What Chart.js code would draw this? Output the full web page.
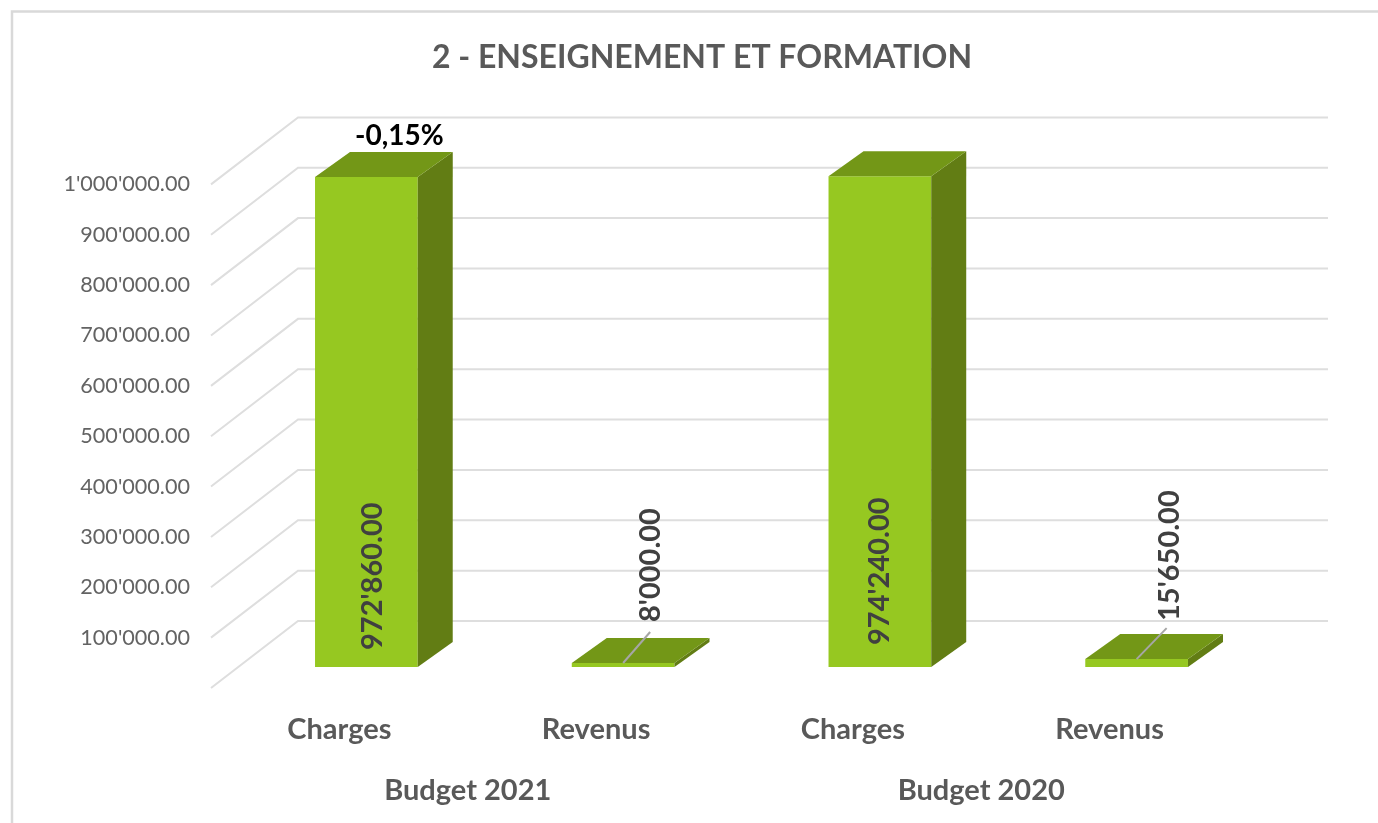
<!DOCTYPE html>
<html>
<head>
<meta charset="utf-8">
<style>html,body{margin:0;padding:0;background:#fff}canvas{display:block}</style>
<script src="https://cdn.jsdelivr.net/npm/chart.js@4"></script>
</head>
<body>
<canvas id="c" width="1378" height="823"></canvas>
<script>
const categories = ['Charges', 'Revenus', 'Charges', 'Revenus'];
const groups = ['Budget 2021', 'Budget 2020'];
const values = [972860, 8000, 974240, 15650];
const valueLabels = ["972'860.00", "8'000.00", "974'240.00", "15'650.00"];
const changeLabel = '-0,15%';
const titleText = '2 - ENSEIGNEMENT ET FORMATION';

const FONT = 'Lato, "Open Sans", sans-serif';
const FRONT = '#96C821', TOP = '#739717', SIDE = '#627D14', GRID = '#DEDEDE', TEXT = '#595959';
const BAR_DX = 27, BAR_DY = -21, DEPTH_X = 35, DEPTH_Y = 25, WALL_DX = 87, WALL_DY = -67;

function fmt(v) {
  const s = String(Math.round(v)).replace(/\B(?=(\d{3})+$)/g, "'");
  return s + '.00';
}

const threeD = {
  id: 'threeD',
  beforeDatasetsDraw(chart) {
    const { ctx, chartArea: a, scales: { y } } = chart;
    ctx.save();
    ctx.strokeStyle = GRID;
    ctx.lineWidth = 2;
    y.ticks.forEach(t => {
      const p = y.getPixelForValue(t.value);
      ctx.beginPath();
      ctx.moveTo(a.left, p);
      ctx.lineTo(a.left + WALL_DX, p + WALL_DY);
      ctx.lineTo(a.right + WALL_DX + 3, p + WALL_DY);
      ctx.stroke();
    });
    // chart frame
    ctx.strokeStyle = '#D9D9D9';
    ctx.lineWidth = 2.5;
    ctx.beginPath();
    ctx.moveTo(12, 823);
    ctx.lineTo(12, 11.5);
    ctx.lineTo(1378, 11.5);
    ctx.stroke();
    ctx.restore();
  },
  beforeDatasetDraw(chart) {
    chart.ctx.save();
    chart.ctx.translate(BAR_DX, BAR_DY);
  },
  afterDatasetDraw(chart, args) {
    const { ctx } = chart;
    ctx.restore();
    const els = chart.getDatasetMeta(args.index).data;
    els.forEach(el => {
      const l = el.x - el.width / 2 + BAR_DX, r = el.x + el.width / 2 + BAR_DX;
      const t = el.y + BAR_DY, b = el.base + BAR_DY;
      ctx.fillStyle = SIDE;
      ctx.beginPath();
      ctx.moveTo(r, t); ctx.lineTo(r + DEPTH_X, t - DEPTH_Y);
      ctx.lineTo(r + DEPTH_X, b - DEPTH_Y); ctx.lineTo(r, b);
      ctx.closePath(); ctx.fill();
      ctx.fillStyle = TOP;
      ctx.beginPath();
      ctx.moveTo(l, t); ctx.lineTo(l + DEPTH_X, t - DEPTH_Y);
      ctx.lineTo(r + DEPTH_X, t - DEPTH_Y); ctx.lineTo(r, t);
      ctx.closePath(); ctx.fill();
    });
  },
  afterDatasetsDraw(chart) {
    const { ctx } = chart;
    const els = chart.getDatasetMeta(0).data;
    // label anchors relative to each bar's category centre
    const lx = [33, 55, 27, 60], ly = [-38, -66, -43, -67];
    ctx.save();
    // leader lines for the two small bars
    ctx.strokeStyle = '#A6A6A6';
    ctx.lineWidth = 2;
    [1, 3].forEach(i => {
      const el = els[i];
      const x0 = el.x + BAR_DX, y0 = el.y + BAR_DY;
      ctx.beginPath();
      ctx.moveTo(x0, y0);
      ctx.lineTo(x0 + 27 + (i === 3 ? 3 : 0), y0 - 31);
      ctx.stroke();
    });
    ctx.fillStyle = '#404040';
    ctx.font = 'bold 29px ' + FONT;
    ctx.textAlign = 'left';
    ctx.textBaseline = 'middle';
    els.forEach((el, i) => {
      ctx.save();
      ctx.translate(el.x + lx[i], el.base + ly[i]);
      ctx.rotate(-Math.PI / 2);
      ctx.fillText(valueLabels[i], 0, 0);
      ctx.restore();
    });
    ctx.fillStyle = '#000';
    ctx.font = 'bold 28px ' + FONT;
    ctx.textAlign = 'center';
    ctx.fillText(changeLabel, els[0].x + 60, els[0].y - 62);
    ctx.restore();
  }
};

new Chart(document.getElementById('c'), {
  type: 'bar',
  data: {
    labels: categories,
    datasets: [{
      data: values,
      backgroundColor: FRONT,
      borderWidth: 0,
      categoryPercentage: 0.4,
      barPercentage: 1,
      xAxisID: 'x',
      yAxisID: 'y'
    }]
  },
  plugins: [threeD],
  options: {
    responsive: false,
    animation: false,
    layout: { padding: { left: 26 } },
    plugins: {
      legend: { display: false },
      tooltip: { enabled: false },
      title: {
        display: true,
        text: titleText,
        color: TEXT,
        font: { family: FONT, size: 32, weight: 'bold' },
        padding: { top: 38, bottom: 108 }
      }
    },
    scales: {
      x: {
        position: 'bottom',
        grid: { display: false },
        border: { display: false },
        ticks: { color: TEXT, padding: 16, font: { family: FONT, size: 29, weight: 'bold' }, maxRotation: 0 },
        afterFit(s) { s.height = 60; }
      },
      x2: {
        type: 'category',
        labels: groups,
        position: 'bottom',
        grid: { display: false },
        border: { display: false },
        ticks: { color: TEXT, padding: 17, font: { family: FONT, size: 29, weight: 'bold' }, maxRotation: 0 },
        afterFit(s) { s.height = 75; }
      },
      y: {
        min: 0,
        max: 1000000,
        grid: { display: false },
        border: { display: false },
        ticks: {
          stepSize: 100000,
          padding: 13,
          color: '#636363',
          font: { family: FONT, size: 21.6 },
          callback: v => (v === 0 ? '' : fmt(v))
        },
        afterFit(s) { s.width = 185; }
      },
      spacer: {
        position: 'right',
        grid: { display: false },
        border: { display: false },
        ticks: { display: false },
        afterFit(s) { s.width = 140; }
      }
    }
  }
});
</script>
</body>
</html>
